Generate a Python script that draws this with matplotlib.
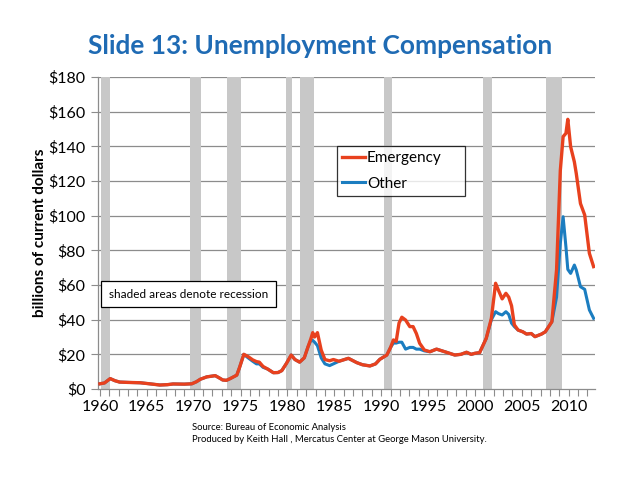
import matplotlib
matplotlib.use("Agg")
import matplotlib.pyplot as plt
from matplotlib.ticker import FixedLocator, FuncFormatter

years = [1960.0, 1960.5, 1961.1, 1961.6, 1962.1, 1963.0, 1964.3, 1965.3, 1966.4, 1967.2,
         1967.8, 1969.0, 1969.8, 1970.3, 1970.7, 1971.4, 1972.3, 1972.7, 1973.1, 1973.5,
         1973.9, 1974.6, 1974.9, 1975.35, 1975.8, 1976.3, 1976.7, 1977.0, 1977.4, 1977.9,
         1978.5, 1979.0, 1979.4, 1979.9, 1980.4, 1980.8, 1981.3, 1981.8, 1982.2, 1982.5,
         1982.7, 1982.9, 1983.2, 1983.6, 1984.0, 1984.5, 1984.9, 1985.5, 1986.5, 1987.4,
         1988.0, 1988.8, 1989.4, 1989.85, 1990.6, 1991.0, 1991.3, 1991.6, 1991.9, 1992.2,
         1992.6, 1993.05, 1993.4, 1993.75, 1994.1, 1994.6, 1995.2, 1995.9, 1996.95, 1997.85,
         1998.5, 1999.1, 1999.6, 2000.0, 2000.5, 2001.2, 2001.75, 2002.2, 2002.5, 2002.9,
         2003.3, 2003.6, 2003.9, 2004.2, 2004.6, 2005.1, 2005.5, 2006.0, 2006.4, 2007.1,
         2007.5, 2008.2, 2008.7, 2009.1, 2009.4, 2009.7, 2009.9, 2010.2, 2010.6, 2010.8,
         2011.25, 2011.7, 2012.2, 2012.65]

emergency = [3.0, 3.5, 6.0, 4.8, 4.0, 3.8, 3.6, 3.0, 2.3, 2.5,
             2.9, 2.8, 3.0, 4.2, 5.6, 7.0, 7.7, 6.5, 5.2, 5.0,
             6.0, 8.0, 12.5, 20.0, 18.7, 16.8, 15.8, 15.5, 13.0, 11.5,
             9.4, 9.5, 10.6, 14.8, 19.6, 17.0, 15.5, 18.0, 24.4, 29.0,
             32.5, 30.0, 32.5, 22.5, 17.0, 16.3, 17.0, 16.0, 17.7, 15.2,
             14.0, 13.3, 14.5, 17.1, 19.6, 24.0, 28.3, 27.5, 38.0, 41.4,
             39.8, 36.0, 36.0, 32.0, 26.4, 22.5, 21.5, 23.0, 21.2, 19.6,
             20.0, 21.2, 20.0, 20.6, 21.0, 29.2, 40.8, 61.0, 57.0, 52.0,
             55.2, 53.0, 48.0, 37.0, 34.0, 33.0, 31.7, 32.0, 30.2, 31.7,
             33.0, 38.8, 68.7, 126.0, 145.6, 147.5, 155.6, 139.8, 131.0, 124.4,
             107.0, 100.4, 78.3, 70.6]

other = [3.0, 3.5, 6.0, 4.8, 4.0, 3.8, 3.6, 3.0, 2.3, 2.5,
         2.9, 2.8, 3.0, 4.2, 5.6, 7.0, 7.7, 6.5, 5.2, 5.0,
         6.0, 8.0, 12.5, 20.0, 18.0, 16.0, 14.5, 14.5, 12.5, 11.5,
         9.4, 9.5, 10.6, 14.8, 19.6, 17.0, 15.5, 18.0, 24.4, 28.0,
         28.0, 27.0, 25.0, 18.0, 14.5, 13.5, 14.5, 16.0, 17.7, 15.2,
         14.0, 13.3, 14.5, 17.1, 19.6, 24.0, 26.5, 26.5, 27.0, 27.0,
         23.0, 24.0, 24.0, 23.0, 23.0, 22.0, 21.5, 23.0, 21.2, 19.6,
         20.0, 21.2, 20.0, 20.6, 21.0, 29.2, 40.0, 44.6, 43.5, 42.7,
         44.6, 43.0, 38.0, 36.0, 34.0, 33.0, 31.7, 32.0, 30.2, 31.7,
         33.0, 38.8, 53.0, 84.0, 99.4, 82.0, 69.0, 66.7, 71.5, 68.7,
         59.0, 57.5, 45.6, 40.8]

recessions = [(1960.1, 1961.07), (1969.6, 1970.77), (1973.6, 1975.03), (1979.8, 1980.5),
              (1981.3, 1982.8), (1990.3, 1991.1), (2000.86, 2001.8), (2007.55, 2009.25)]

major_years = list(range(1960, 2011, 5))
yticks = list(range(0, 181, 20))

FONT = ['Lato', 'DejaVu Sans']
plt.rcParams['font.family'] = FONT

fig = plt.figure(figsize=(6.38, 4.79), dpi=100)
ax = fig.add_axes([98/638, 1-389/479, (595-98)/638, (389-77)/479])

for a, b in recessions:
    ax.axvspan(a, b, color='#c8c8c8', lw=0, zorder=1)

for v in yticks[1:]:
    ax.axhline(v, color='#8c8c8c', lw=0.9, zorder=0.5)

ax.plot(years, other, color='#1b7dc0', lw=2.2, zorder=3, label='Other',
        solid_joinstyle='round')
ax.plot(years, emergency, color='#e8411e', lw=2.4, zorder=4, label='Emergency',
        solid_joinstyle='round')

ax.set_xlim(1959.8, 2012.8)
ax.set_ylim(0, 180)
ax.xaxis.set_major_locator(FixedLocator(major_years))
ax.xaxis.set_minor_locator(FixedLocator(list(range(1960, 2013))))
ax.set_yticks(yticks)
ax.yaxis.set_major_formatter(FuncFormatter(lambda v, p: f"${int(v)}"))
ax.tick_params(axis='x', which='both', direction='out', length=5, color='#8c8c8c',
               width=0.8, labelsize=11.5, pad=3)
ax.tick_params(axis='y', direction='out', length=5, color='#8c8c8c', width=0.8,
               labelsize=11.5, pad=4)
for s in ['top', 'right']:
    ax.spines[s].set_visible(False)
for s in ['left', 'bottom']:
    ax.spines[s].set_color('#8c8c8c')
    ax.spines[s].set_linewidth(0.9)

ax.set_ylabel('billions of current dollars', fontsize=11, fontweight='bold', labelpad=1)

handles, labels = ax.get_legend_handles_labels()
leg = ax.legend(handles[::-1], labels[::-1], loc='center left',
                bbox_to_anchor=((337-98)/497, 1-(195-77)/312, (465-337)/497, (195-147)/312),
                mode='expand', fontsize=11, frameon=True, fancybox=False, handlelength=1.5,
                handletextpad=0.1, borderaxespad=0, borderpad=0.35, labelspacing=0.75)
leg.get_frame().set_edgecolor('black')
leg.get_frame().set_linewidth(0.9)

ax.text(0.022, (389-294)/312, 'shaded areas denote recession', transform=ax.transAxes,
        fontsize=8.5, va='center', ha='left', zorder=6,
        bbox=dict(boxstyle='square,pad=0.65', fc='white', ec='black', lw=0.9))

fig.text(320/638, 1-46/479, 'Slide 13: Unemployment Compensation', ha='center', va='center',
         fontsize=18.9, fontweight='bold', color='#1f6bb4')
fig.text(192/638, 1-428/479, 'Source: Bureau of Economic Analysis', ha='left', va='center',
         fontsize=6.8)
fig.text(192/638, 1-440/479, 'Produced by Keith Hall , Mercatus Center at George Mason University.',
         ha='left', va='center', fontsize=6.8)

fig.savefig('out.png', dpi=100)
